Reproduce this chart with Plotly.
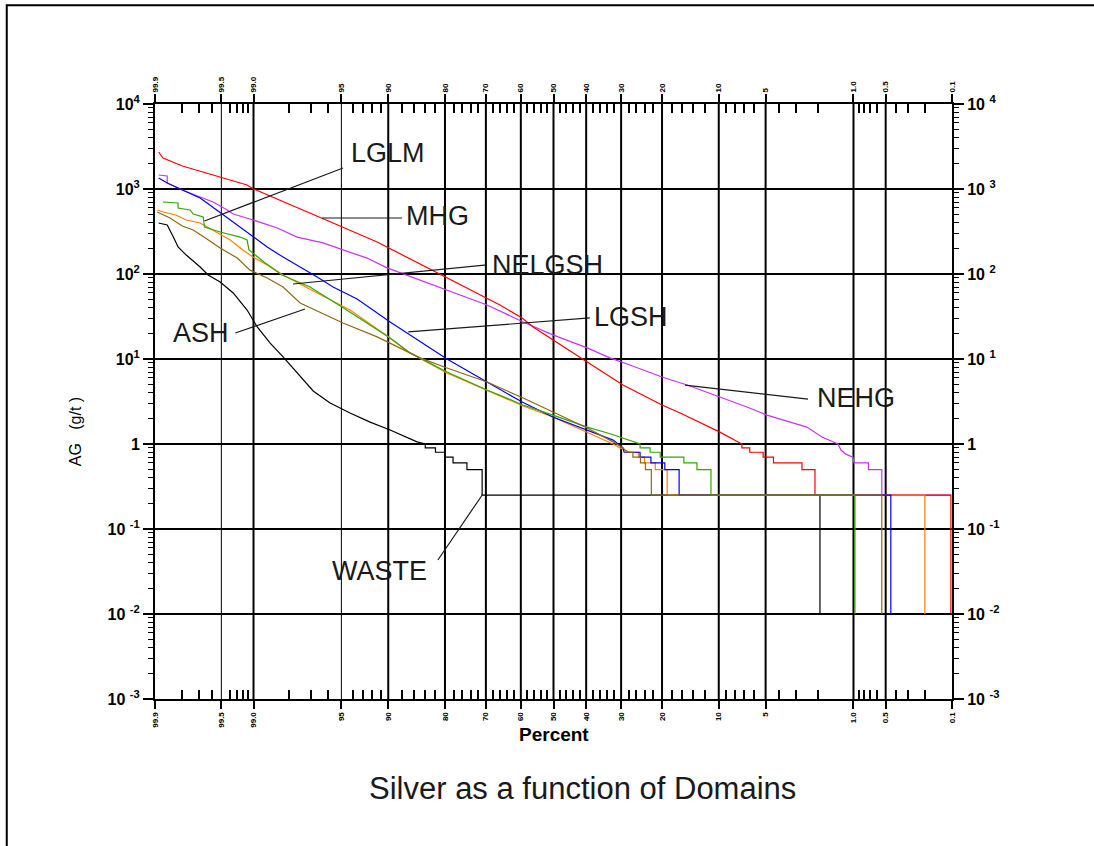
import math
from statistics import NormalDist
import plotly.graph_objects as go

ND = NormalDist()


def px(p):
    """percent (exceedance) -> normal-score position (reversed so 99.9 is on the left)"""
    return -ND.inv_cdf(p / 100.0)


# ---------------- data (percent, AG g/t) ----------------
MHG_pct = [99.89, 99.877, 99.80, 99.64, 99.48, 99.125, 99.0, 98.06, 95.63, 91.43, 86.37, 79.56,
           66.1, 59.6, 56.3, 39.7, 29.5, 20.0, 16.3, 9.84, 7.41, 7.2, 7.2, 6.4, 6.4, 5.2, 5.2,
           4.4, 4.4, 2.7, 2.7, 2.13, 2.13, 0.103, 0.103]
MHG_ag = [2724, 2317, 1866, 1543, 1347, 1114, 1000, 684, 398, 238, 146, 89.7,
          43.2, 30.4, 23.8, 9.22, 4.94, 2.88, 2.32, 1.38, 1.03, 1.0, 0.9, 0.9, 0.8, 0.8, 0.7,
          0.7, 0.6, 0.6, 0.5, 0.5, 0.25, 0.25, 0.01]

NEHG_pct = [99.89, 99.863, 99.863, 99.80, 99.693, 99.585, 99.43, 99.35, 99.007, 98.39,
            97.66, 96.30, 94.87, 92.59, 90.16, 84.97, 79.56, 69.7, 59.3, 50.2,
            39.7, 33.1, 27.7, 20.0, 15.0, 9.84, 6.68, 4.90, 3.34, 2.47,
            1.87, 1.49, 1.37, 1.29, 1.17, 1.01, 0.99, 0.73, 0.73, 0.545, 0.545, 0.103]
NEHG_ag = [1462, 1422, 1177, 973, 805, 703, 566, 508, 432, 348,
           272, 232, 192, 154, 118, 85.0, 64.8, 43.2, 27.3, 19.2,
           13.5, 10.3, 8.50, 6.14, 4.94, 3.57, 2.72, 2.19, 1.81, 1.58,
           1.21, 1.06, 1.0, 0.85, 0.76, 0.7, 0.6, 0.6, 0.5, 0.5, 0.25, 0.25]

LGSH_pct = [99.89, 99.88, 99.863, 99.80, 99.693, 99.55, 99.35, 99.07, 98.68, 98.20, 97.53,
            96.66, 95.63, 93.61, 89.74, 79.56, 69.7, 59.6, 50.2, 39.7, 32.2, 29.5, 29.2,
            25.1, 25.1, 22.5, 22.5, 19.4, 19.4, 16.5, 16.5, 0.445, 0.445]
LGSH_ag = [1347, 1275, 1177, 973, 784, 566, 409, 288, 208, 158, 121,
           92.2, 70.3, 50.8, 27.3, 10.0, 5.36, 3.12, 2.08, 1.46, 1.11, 0.9, 0.8,
           0.8, 0.7, 0.7, 0.6, 0.6, 0.5, 0.5, 0.25, 0.25, 0.01]

LGLM_pct = [99.877, 99.82, 99.82, 99.758, 99.74, 99.67, 99.66, 99.513, 99.245, 99.125, 99.09,
            98.73, 98.24, 97.05, 94.95, 92.59, 89.74, 86.70, 79.56, 69.7, 59.3, 50.2, 39.7,
            32.8, 28.7, 25.1, 25.1, 22.7, 22.7, 20.4, 20.4, 15.6, 15.6, 13.3, 13.3, 11.1, 11.1,
            0.97, 0.97]
LGLM_ag = [703, 684, 597, 566, 508, 469, 357, 312, 272, 251, 192,
           135, 97.3, 70.3, 40.9, 26.5, 17.7, 11.8, 7.03, 4.32, 2.88, 2.19, 1.58,
           1.31, 1.14, 1.0, 0.9, 0.9, 0.8, 0.8, 0.7, 0.7, 0.6, 0.6, 0.5, 0.5, 0.25,
           0.25, 0.01]

NELGSH_pct = [99.894, 99.877, 99.83, 99.78, 99.693, 99.55, 99.39, 99.20, 99.007, 98.68, 98.20,
              96.66, 94.27, 90.69, 86.70, 79.56, 69.7, 59.3, 50.2, 39.7, 32.2, 30.3, 27.7,
              25.5, 25.5, 24.0, 24.0, 21.5, 21.5, 18.9, 18.9, 0.199, 0.199]
NELGSH_ag = [566, 536, 494, 432, 398, 312, 251, 192, 158, 128, 97.3,
             59.8, 37.7, 20.2, 11.8, 6.84, 4.32, 2.80, 2.08, 1.38, 1.0, 0.9, 0.8,
             0.8, 0.7, 0.7, 0.6, 0.6, 0.5, 0.5, 0.25, 0.25, 0.01]

ASH_pct = [99.894, 99.853, 99.80, 99.74, 99.64, 99.513, 99.29, 99.07, 98.68, 98.20, 97.53,
           94.87, 91.43, 84.97, 79.56, 69.7, 59.3, 50.2, 39.7, 32.2, 29.5, 28.4,
           26.9, 26.9, 25.0, 25.0, 23.8, 23.8, 22.4, 22.4, 0.545, 0.545]
ASH_ag = [536, 456, 367, 329, 258, 202, 154, 111, 89.7, 70.3, 45.6,
          26.5, 18.2, 10.3, 7.84, 5.36, 3.48, 2.38, 1.54, 1.06, 0.9, 0.8,
          0.8, 0.7, 0.7, 0.6, 0.6, 0.5, 0.5, 0.25, 0.25, 0.01]

WASTE_pct = [99.89, 99.863, 99.84, 99.82, 99.78, 99.693, 99.63, 99.513, 99.35, 99.125,
             98.92, 98.60, 98.20, 97.66, 96.88, 95.84, 94.27, 92.25, 89.74, 85.5,
             84.0, 84.0, 82.0, 82.0, 80.0, 80.0, 78.2, 78.2, 74.9, 74.9, 71.0, 71.0, 1.94, 1.94]
WASTE_ag = [398, 377, 272, 208, 167, 121, 97.3, 80.5, 59.8, 37.7,
            23.8, 15.4, 10.6, 6.84, 4.20, 3.04, 2.32, 1.81, 1.46, 1.06,
            1.0, 0.9, 0.9, 0.8, 0.8, 0.7, 0.7, 0.6, 0.6, 0.5, 0.5, 0.25, 0.25, 0.01]

# drawing order (bottom -> top)
series_names = ["NEHG", "WASTE", "MHG", "NELGSH", "LGSH", "LGLM", "ASH"]
series_pct = [NEHG_pct, WASTE_pct, MHG_pct, NELGSH_pct, LGSH_pct, LGLM_pct, ASH_pct]
series_ag = [NEHG_ag, WASTE_ag, MHG_ag, NELGSH_ag, LGSH_ag, LGLM_ag, ASH_ag]
series_colors = ["#C832FF", "#000000", "#FF0000", "#FF8000", "#0000FF", "#33A800", "#8B6A14"]

# x axis (probability) ticks
major_pct = [99.9, 99.5, 99.0, 95, 90, 80, 70, 60, 50, 40, 30, 20, 10, 5, 1.0, 0.5, 0.1]
major_lbl = ["99.9", "99.5", "99.0", "95", "90", "80", "70", "60", "50", "40", "30", "20",
             "10", "5", "1.0", "0.5", "0.1"]
thin_grid_pct = [99.5, 95]
thick_grid_pct = [99.0, 90, 80, 70, 60, 50, 40, 30, 20, 10, 5, 1.0, 0.5]
minor_pct = [99.8, 99.7, 99.6, 99.4, 99.3, 99.2, 99.1, 98, 97, 96, 94, 93, 92, 91,
             88, 86, 84, 82, 78, 76, 74, 72, 68, 66, 64, 62, 58, 56, 54, 52,
             48, 46, 44, 42, 38, 36, 34, 32, 28, 26, 24, 22, 18, 16, 14, 12,
             9, 8, 7, 6, 4, 3, 2, 0.9, 0.8, 0.7, 0.6, 0.4, 0.3, 0.2]

# y axis ticks
y_major = [1e-3, 1e-2, 1e-1, 1, 10, 100, 1000, 10000]
y_lbl_left = ["10 <sup>-3</sup>", "10 <sup>-2</sup>", "10 <sup>-1</sup>", "1",
              "10<sup>1</sup>", "10<sup>2</sup>", "10<sup>3</sup>", "10<sup>4</sup>"]
y_lbl_right = ["10 <sup>-3</sup>", "10 <sup>-2</sup>", "10 <sup>-1</sup>", "1",
               "10 <sup>1</sup>", "10 <sup>2</sup>", "10 <sup>3</sup>", "10 <sup>4</sup>"]
y_minor = [m * 10 ** k for k in range(-3, 4) for m in range(2, 10)]

# labels: (text, percent, grade, anchor) and leader lines (p0, g0, p1, g1)
label_text = ["LGLM", "MHG", "NELGSH", "ASH", "LGSH", "NEHG", "WASTE"]
label_pct = [94.4, 87.7, 68.9, 99.38, 38.3, 2.13, 83.3]
label_ag = [2654, 481, 128, 20.2, 31.2, 3.48, 0.032]
label_anchor = ["left", "left", "left", "right", "left", "left", "right"]
leader_lines = [
    (94.87, 1766, 99.66, 421),
    (96.37, 456, 87.98, 456),
    (97.83, 76.3, 69.7, 128),
    (97.3, 38.7, 99.32, 20.2),
    (87.0, 20.8, 38.9, 30.4),
    (15.4, 4.94, 2.42, 3.38),
    (70.8, 0.258, 81.5, 0.0432),
]

FONT = "Liberation Sans, Arial, sans-serif"

fig = go.Figure()
for name, pc, ag, col in zip(series_names, series_pct, series_ag, series_colors):
    assert len(pc) == len(ag), name
    fig.add_trace(go.Scatter(x=[px(p) for p in pc], y=ag, mode="lines", name=name,
                             line=dict(color=col, width=1.2), hoverinfo="skip"))

xr = [px(99.9), px(0.1)]
# invisible trace to carry the top/right axes
fig.add_trace(go.Scatter(x=xr, y=[1e-3, 1e4], xaxis="x2", yaxis="y2", mode="lines",
                         line=dict(width=0, color="rgba(0,0,0,0)"), hoverinfo="skip",
                         showlegend=False))

xcommon = dict(
    range=xr, tickmode="array", tickvals=[px(p) for p in major_pct], ticktext=major_lbl,
    tickangle=-90, tickfont=dict(family=FONT, size=8, color="black", weight="bold"),
    ticks="outside", ticklen=8, tickwidth=2, tickcolor="black",
    showgrid=False, zeroline=False, showline=True, linecolor="black", linewidth=2,
    minor=dict(tickmode="array", tickvals=[px(p) for p in minor_pct], ticks="inside",
               ticklen=9, tickwidth=2, tickcolor="black", showgrid=False),
)
ycommon = dict(
    type="log", range=[-3, 4], tickmode="array", tickvals=y_major,
    tickfont=dict(family=FONT, size=16, color="black", weight="bold"),
    ticks="outside", ticklen=10, tickwidth=2, tickcolor="black",
    zeroline=False, showline=True, linecolor="black", linewidth=2,
    minor=dict(tickmode="array", tickvals=y_minor, ticks="outside", ticklen=5,
               tickwidth=1, tickcolor="black", showgrid=False),
)

fig.update_layout(
    width=1094, height=846,
    margin=dict(l=155, r=142, t=104, b=147),
    paper_bgcolor="white", plot_bgcolor="white",
    showlegend=False,
    xaxis=dict(side="bottom", **xcommon),
    xaxis2=dict(side="top", overlaying="x", anchor="y2", **xcommon),
    yaxis=dict(side="left", ticktext=y_lbl_left, showgrid=True, gridcolor="black",
               gridwidth=2, **ycommon),
    yaxis2=dict(side="right", overlaying="y", anchor="x2", ticktext=y_lbl_right,
                showgrid=False, **ycommon),
)

shapes = []
for p in thick_grid_pct:
    shapes.append(dict(type="line", xref="x", yref="paper", x0=px(p), x1=px(p), y0=0, y1=1,
                       line=dict(color="black", width=2), layer="below"))
for p in thin_grid_pct:
    shapes.append(dict(type="line", xref="x", yref="paper", x0=px(p), x1=px(p), y0=0, y1=1,
                       line=dict(color="black", width=1), layer="below"))
for (p0, g0, p1, g1) in leader_lines:
    shapes.append(dict(type="line", xref="x", yref="y", x0=px(p0), y0=g0,
                       x1=px(p1), y1=g1, line=dict(color="#1a1a1a", width=1.2)))
# outer frame of the page (only top and left edges fall inside the picture)
shapes.append(dict(type="rect", xref="paper", yref="paper", x0=-0.186, y0=-0.5, x1=1.5,
                   y1=1.166, line=dict(color="black", width=2), fillcolor="rgba(0,0,0,0)"))
fig.update_layout(shapes=shapes)

annotations = []
for t, p, g, a in zip(label_text, label_pct, label_ag, label_anchor):
    annotations.append(dict(text=t, x=px(p), y=math.log10(g), xref="x", yref="y",
                            xanchor=a, yanchor="middle", showarrow=False,
                            font=dict(family=FONT, size=27, color="#1a1a1a")))
annotations.append(dict(text="Percent", x=0.5006, y=-0.0605, xref="paper", yref="paper",
                        xanchor="center", yanchor="middle", showarrow=False,
                        font=dict(family=FONT, size=19, color="black", weight="bold")))
annotations.append(dict(text="AG\u00a0\u00a0\u00a0(g/t\u00a0)", x=-0.1004, y=0.45,
                        xref="paper", yref="paper", textangle=-90, xanchor="center",
                        yanchor="middle", showarrow=False,
                        font=dict(family=FONT, size=16, color="black")))
annotations.append(dict(text="Silver as a function of Domains", x=0.537, y=-0.1496,
                        xref="paper", yref="paper", xanchor="center", yanchor="middle",
                        showarrow=False, font=dict(family=FONT, size=31, color="#1a1a1a")))
fig.update_layout(annotations=annotations)

fig.write_html("out.html")
